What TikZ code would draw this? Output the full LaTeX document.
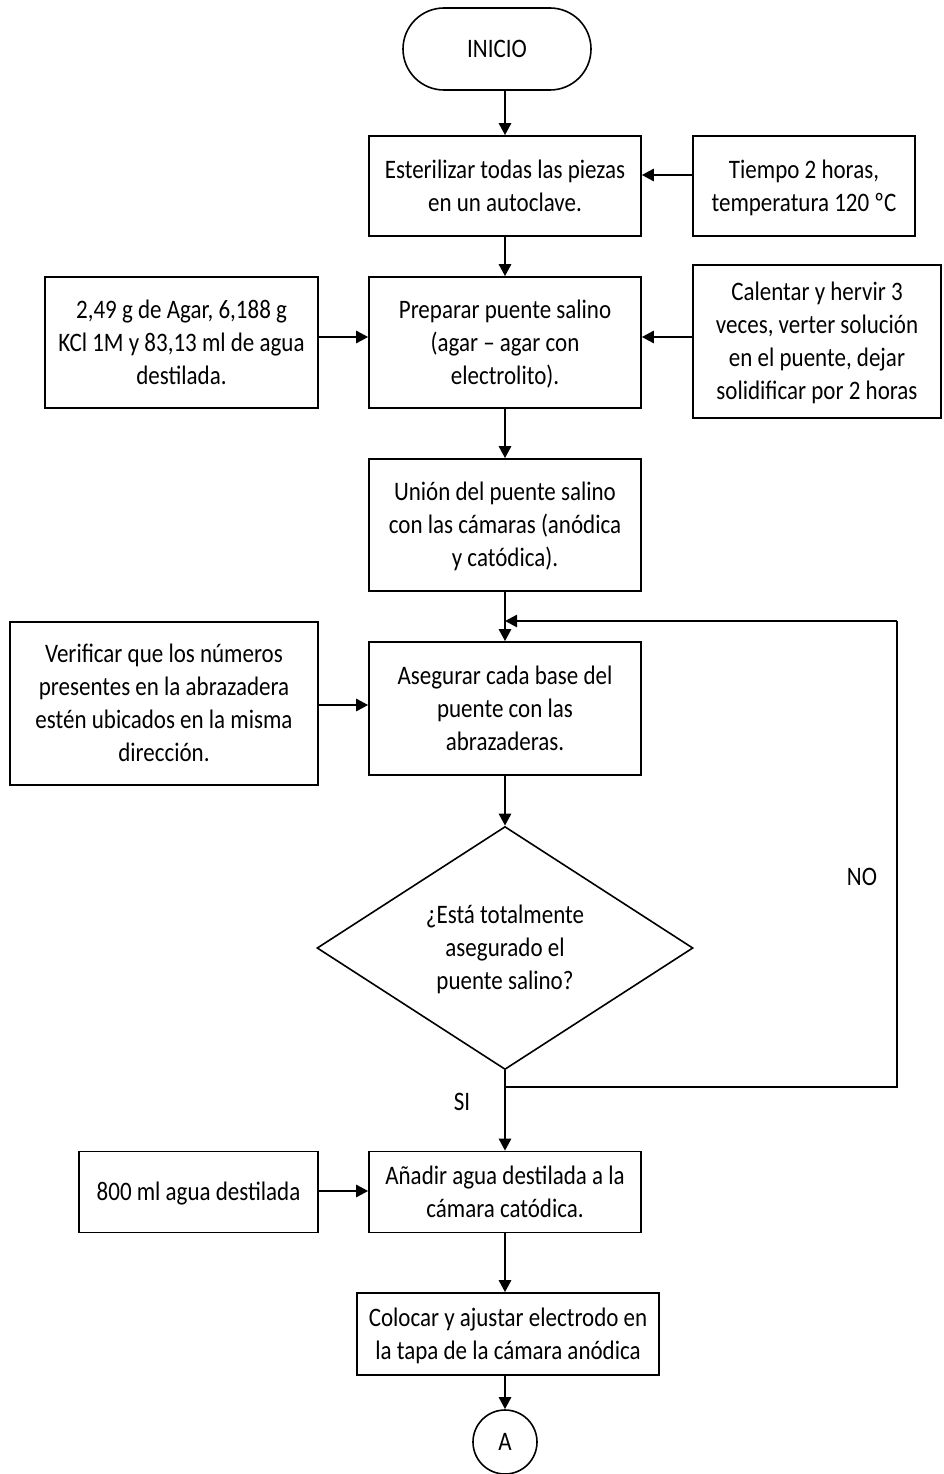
\documentclass[tikz,border=0pt]{standalone}
\usepackage{fontspec}
\usepackage{graphicx}
\setmainfont{Carlito}
\usetikzlibrary{arrows.meta,shapes.geometric,calc}
\newcommand{\ST}[1]{\raisebox{-2pt}[\height][\depth]{\scalebox{1}[1.16]{\begin{tabular}{@{}c@{}}#1\end{tabular}}}}
\begin{document}
\begin{tikzpicture}[x=1pt,y=-1pt,
  txt/.style={font=\fontsize{23}{28.4}\selectfont},
  box/.style={draw,line width=1.6pt,rectangle,inner sep=0pt,align=center,txt},
  conn/.style={line width=2.6pt,-{Triangle[length=12pt,width=12pt]}},
  thin/.style={line width=1.6pt},
  lbl/.style={inner sep=0pt,txt}]
\useasboundingbox (0,0) rectangle (943,1474);
\node[box,rounded corners=41pt,minimum width=188pt,minimum height=82pt] (inicio) at (497,49) {\ST{INICIO}};
\node[box,minimum width=272pt,minimum height=100pt] (b1) at (505,186) {\ST{Esterilizar todas las piezas\\en un autoclave.}};
\node[box,minimum width=222pt,minimum height=100pt] (tiempo) at (804,186) {\ST{Tiempo 2 horas,\\temperatura 120 ºC}};
\node[box,minimum width=272pt,minimum height=131pt] (b2) at (505,342.5) {\ST{Preparar puente salino\\(agar – agar con\\electrolito).}};
\node[box,minimum width=273pt,minimum height=131pt] (agar) at (181.5,342.5) {\ST{2,49 g de Agar, 6,188 g\\KCl 1M y 83,13 ml de agua\\destilada.}};
\node[box,minimum width=248pt,minimum height=153pt] (calentar) at (817,341.5) {\ST{Calentar y hervir 3\\veces, verter solución\\en el puente, dejar\\solidificar por 2 horas}};
\node[box,minimum width=272pt,minimum height=132pt] (b3) at (505,525) {\ST{Unión del puente salino\\con las cámaras (anódica\\y catódica).}};
\node[box,minimum width=272pt,minimum height=133pt] (b4) at (505,708.5) {\ST{Asegurar cada base del\\puente con las\\abrazaderas.}};
\node[box,minimum width=308pt,minimum height=163pt] (verificar) at (164,703.5) {\ST{Verificar que los números\\presentes en la abrazadera\\estén ubicados en la misma\\dirección.}};
\node[draw,shape=diamond,shape aspect=1.55,line width=1.6pt,minimum width=376pt,minimum height=243pt,inner sep=0pt,align=center,txt] (dec) at (505,948) {\ST{¿Está totalmente\\asegurado el\\puente salino?}};
\node[box,minimum width=272pt,minimum height=81pt] (b5) at (505,1192) {\ST{Añadir agua destilada a la\\cámara catódica.}};
\node[box,minimum width=239pt,minimum height=81pt] (ml) at (198.5,1192) {\ST{800 ml agua destilada}};
\node[box,minimum width=302pt,minimum height=82pt] (b6) at (508,1334) {\ST{Colocar y ajustar electrodo en\\la tapa de la cámara anódica}};
\node[draw,circle,line width=1.6pt,minimum size=64pt,inner sep=0pt,txt] (A) at (505,1442) {\ST{A}};
\node[lbl] (no) at (862,877) {\ST{NO}};
\node[lbl] (si) at (462,1102) {\ST{SI}};
\coordinate (lpA) at (505,1087);
\coordinate (lpB) at (897,1087);
\coordinate (lpC) at (897,621);
\coordinate (lpD) at (505,621);
\draw[conn] (inicio.south -| b1.north) -- (b1.north);
\draw[conn] ($(tiempo.west)+(0,-11)$) -- ($(b1.east)+(0,-11)$);
\draw[conn] (b1.south) -- (b2.north);
\draw[conn] ($(agar.east)+(0,-5.5)$) -- ($(b2.west)+(0,-5.5)$);
\draw[conn] ($(calentar.west)+(0,-4.5)$) -- ($(b2.east)+(0,-5.5)$);
\draw[conn] (b2.south) -- (b3.north);
\draw[conn] (b3.south) -- (b4.north);
\draw[conn] ($(verificar.east)+(0,1.5)$) -- ($(b4.west)+(0,-3.5)$);
\draw[conn] (b4.south) -- (dec.north);
\draw[conn] (dec.south) -- (b5.north);
\draw[thin] (lpA) -- (lpB) -- (lpC);
\draw[conn] (lpC) -- (lpD);
\draw[conn] ($(ml.east)+(0,-1)$) -- ($(b5.west)+(0,-1)$);
\draw[conn] (b5.south) -- (b5.south |- b6.north);
\draw[conn] (b6.south -| A.north) -- (A.north);
\end{tikzpicture}
\end{document}
